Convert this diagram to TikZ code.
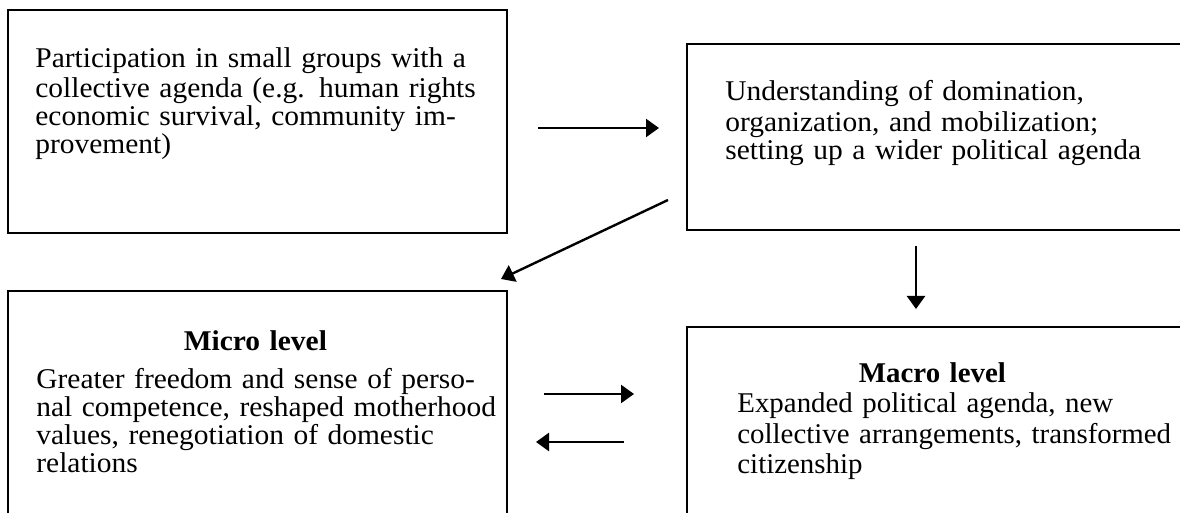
\documentclass[tikz,border=0pt]{standalone}
\usepackage{fontspec}
\setmainfont{Liberation Serif}[FakeStretch=1.03]
\newfontfamily\narrowserif{Liberation Serif}[FakeStretch=1.01]
\usetikzlibrary{arrows.meta,calc,fit}
\begin{document}
\begin{tikzpicture}[x=0.5pt, y=-0.5pt, line join=miter,
  >={Triangle[length=6.5pt,width=9pt]},
  frame/.style={draw, line width=1pt, inner sep=0pt},
  blurb/.style={anchor=north west, inner sep=0pt, align=left, text width=260pt,
    font=\fontsize{14.3}{#1}\selectfont, execute at begin node={\setlength{\baselineskip}{#1}}},
  blurb/.default=14pt,
  flow/.style={->, line width=1.2pt}]
\useasboundingbox (0,0) rectangle (1180,513);
\clip (0,0) rectangle (1180,513);
\node[frame, fit={(8,10) (507,233)}] (part) {};
\node[frame, fit={(687,44) (1195,230)}] (agenda) {};
\node[frame, fit={(8,291) (507,540)}] (micro) {};
\node[frame, fit={(687,327) (1195,540)}] (macro) {};
\node[blurb] (parttext) at (35,47.4) {\strut Participation in small groups with a\\
  collective agenda (e.g. human rights\\
  economic survival, community im-\\
  provement)};
\node[blurb] (agendatext) at (725,80.4) {\strut Understanding of domination,\\
  \makebox[206pt][s]{organization, and mobilization;}\\
  setting up a wider political agenda};
\node[blurb] (microtext) at (36,330.4) {\strut\makebox[230pt]{\bfseries Micro level\hspace{11pt}}\\[3.5pt]
  \makebox[230pt][s]{Greater freedom and sense of perso-}\\
  \makebox[230pt][s]{nal competence, reshaped motherhood}\\
  values, renegotiation of domestic\\
  relations};
\node[blurb=15.25pt] (macrotext) at (737,360.6) {\narrowserif\strut\makebox[216pt]{\bfseries Macro level\hspace{21pt}}\\
  Expanded political agenda, new\\
  collective arrangements, transformed\\
  citizenship};
\draw[flow] ($(part.east)+(30,6.5)$) -- ($(agenda.west)+(-27,-9)$);
\draw[flow] ($(agenda.south west)+(-18,-31)$) -- ($(micro.north east)+(-7,-11)$);
\draw[flow] ($(agenda.south west)+(230,15)$) -- ($(macro.north west)+(230,-17)$);
\draw[flow] ($(micro.east)+(36,-21.5)$) -- ($(macro.west)+(-52,-39.5)$);
\draw[flow] ($(macro.west)+(-62,8.5)$) -- ($(micro.east)+(28,26.5)$);
\end{tikzpicture}
\end{document}
